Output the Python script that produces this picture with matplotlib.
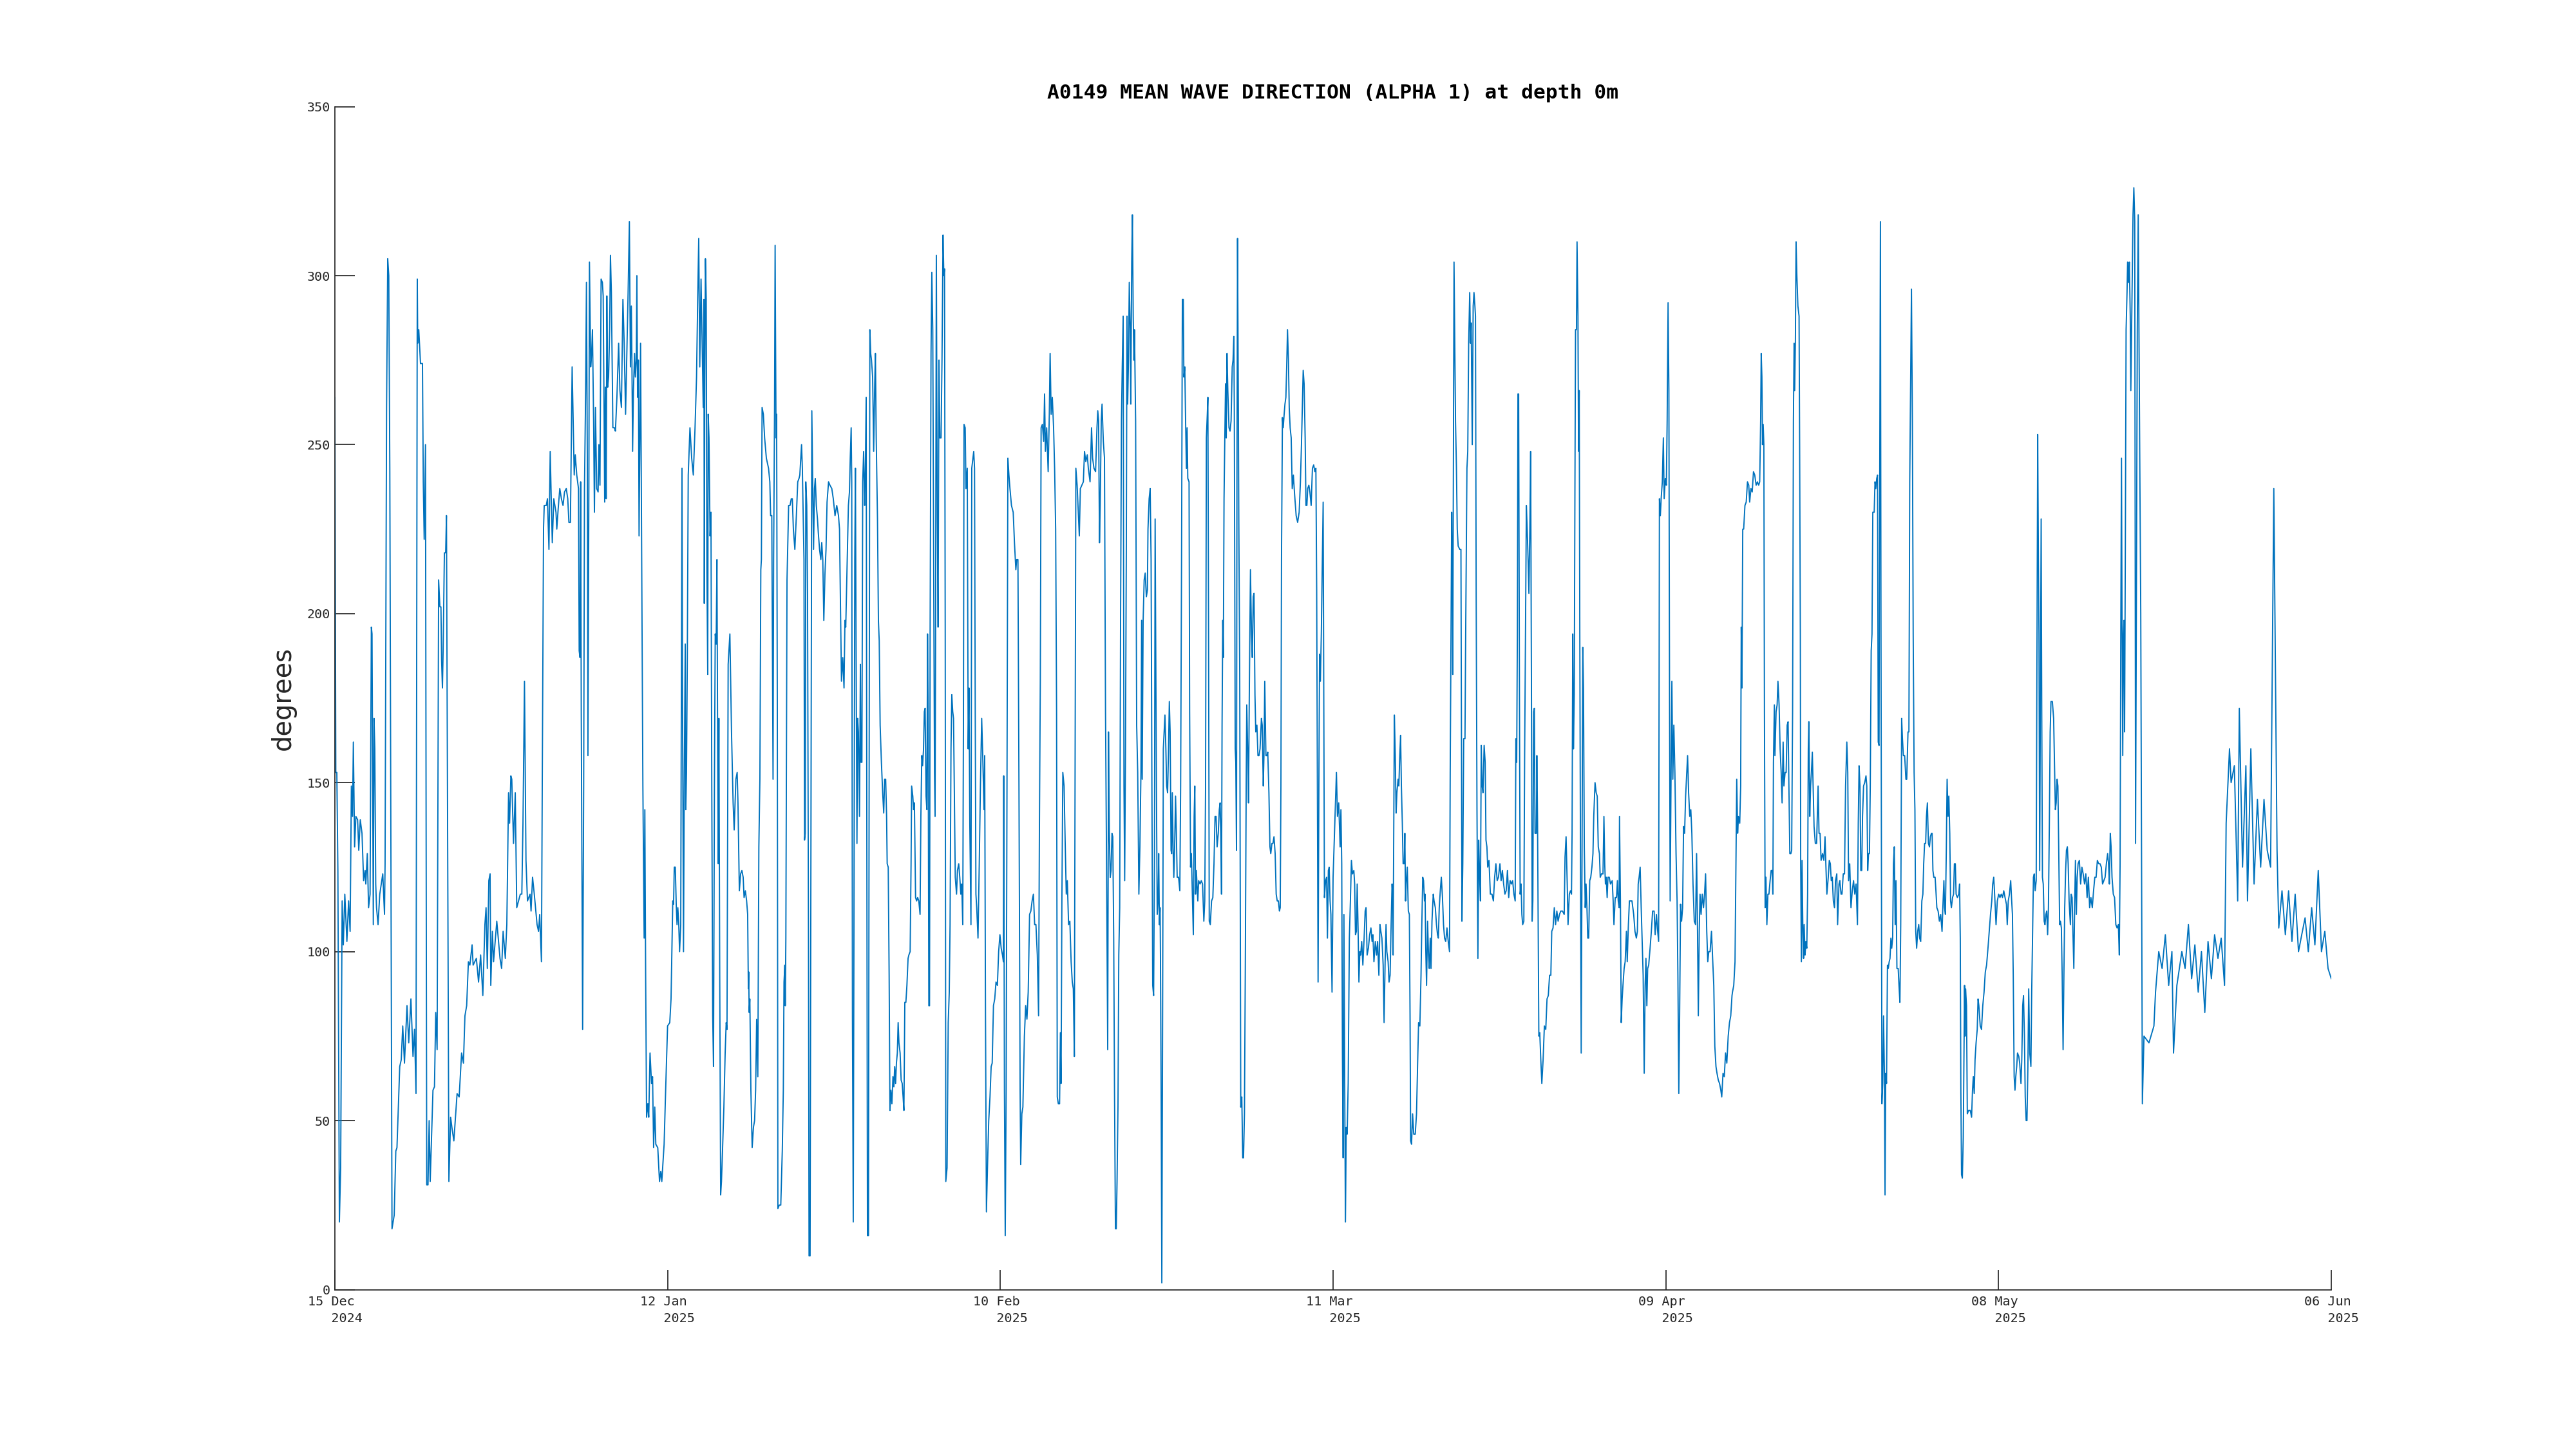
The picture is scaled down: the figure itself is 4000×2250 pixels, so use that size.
import numpy as np
import matplotlib
matplotlib.use("Agg")
import matplotlib.pyplot as plt

# (days since 2024-12-15 00:00, mean wave direction in degrees)
seg01 = [(0.00,264),(0.08,153),(0.17,153),(0.26,124),(0.39,20),(0.50,36),(0.63,115),(0.73,102),(0.86,117),(1.04,103),(1.19,115),(1.32,106),(1.43,149),(1.53,140),(1.60,162),(1.71,131),(1.82,140),(1.97,139),(2.07,130),(2.20,139),(2.35,135),(2.49,121),(2.62,124),(2.68,120),(2.81,129),(2.92,113),(3.05,117),(3.16,196),(3.22,194),(3.33,108),(3.39,169),(3.46,160),(3.54,120),(3.61,113),(3.74,108),(3.89,117),(4.15,123),(4.30,111),(4.35,126),(4.48,261),(4.58,305),(4.67,300),(4.76,243),(4.95,18),(5.14,22),(5.28,41),(5.38,42),(5.62,66),(5.75,68),(5.88,78),(6.03,67),(6.25,84),(6.40,73),(6.59,86),(6.77,69),(6.90,77),(7.03,58),(7.14,299),(7.18,280),(7.27,284),(7.42,274),(7.59,274),(7.66,239),(7.74,222),(7.85,250),(7.96,31),(8.07,31),(8.17,50),(8.26,32),(8.50,59),(8.63,60),(8.74,82),(8.86,71),(8.99,210),(9.10,202),(9.19,202),(9.25,186),(9.32,178),(9.38,189),(9.49,218),(9.60,218),(9.67,229),(9.88,32),(10.03,51),(10.14,48),(10.31,44),(10.59,58),(10.77,57),(10.98,70),(11.14,67),(11.27,81),(11.42,84),(11.57,97),(11.70,96),(11.89,102),(11.98,96),(12.26,98),(12.45,91),(12.63,99),(12.82,87),(13.00,108),(13.10,113),(13.21,95),(13.34,121),(13.45,123),(13.51,90),(13.65,106),(13.75,97),(14.03,109),(14.31,98),(14.45,95),(14.58,106),(14.77,98),(14.90,108),(15.05,147),(15.14,138),(15.25,152),(15.33,151),(15.48,132),(15.63,147),(15.76,113),(16.07,117),(16.20,117),(16.30,138),(16.43,180),(16.56,127),(16.69,115),(16.91,117),(17.00,112),(17.13,122),(17.28,117),(17.52,108),(17.65,106),(17.75,111)]
seg02 = [(17.90,97),(17.97,149),(18.08,225),(18.14,232),(18.32,232),(18.42,234),(18.55,219),(18.66,248),(18.75,234),(18.84,221),(18.97,234),(19.16,230),(19.23,225),(19.35,231),(19.49,237),(19.63,234),(19.77,232),(19.90,236),(20.05,237),(20.18,234),(20.28,227),(20.41,227),(20.56,273),(20.65,257),(20.74,241),(20.83,247),(20.96,241),(21.11,237),(21.17,189),(21.24,187),(21.30,239),(21.35,171),(21.47,77),(21.56,149),(21.63,237),(21.73,266),(21.80,298),(21.88,243),(21.93,158),(22.01,239),(22.06,304),(22.17,273),(22.25,277),(22.32,284),(22.42,257),(22.49,230),(22.58,261),(22.69,237),(22.81,236),(22.88,250),(22.97,238),(23.07,299),(23.18,298),(23.25,294),(23.33,259),(23.38,233),(23.44,267),(23.51,234),(23.57,294),(23.64,267),(23.72,270),(23.81,284),(23.88,306),(23.96,295),(24.09,255),(24.22,255),(24.31,254),(24.44,264),(24.59,280),(24.70,266),(24.83,261),(24.96,293),(25.07,280),(25.19,259),(25.30,277),(25.41,295),(25.52,316),(25.61,273),(25.69,291),(25.74,275),(25.80,248),(25.87,266),(25.97,277),(26.04,270),(26.12,275),(26.17,300),(26.23,264),(26.30,275),(26.36,223),(26.41,246),(26.49,280),(26.60,207),(26.69,149),(26.75,124),(26.80,104),(26.86,142),(26.93,93),(27.01,51),(27.12,55),(27.20,51),(27.31,70),(27.44,61),(27.53,63),(27.62,42),(27.72,54),(27.81,43),(27.98,42),(28.13,32),(28.24,35),(28.33,32),(28.42,37),(28.53,43),(28.68,61),(28.83,78),(29.02,79),(29.13,86),(29.28,115),(29.35,114),(29.41,125),(29.50,125),(29.58,114),(29.65,108),(29.72,113),(29.80,108),(29.87,100),(29.97,108),(30.02,171),(30.08,243),(30.13,171),(30.21,100),(30.28,153),(30.36,191),(30.41,142),(30.47,153),(30.54,187),(30.62,241),(30.77,255),(30.92,246),(31.06,241),(31.21,255),(31.34,270),(31.44,293),(31.53,311),(31.62,273),(31.73,299),(31.85,275),(31.92,261),(31.98,293),(32.01,203),(32.05,261),(32.11,305),(32.18,293),(32.24,212),(32.31,182),(32.35,259),(32.42,252),(32.51,223),(32.59,230),(32.66,149),(32.74,81),(32.81,66),(32.89,149),(32.96,194),(33.04,191),(33.11,216),(33.17,160),(33.22,126),(33.28,169),(33.35,93),(33.43,28),(33.50,32),(33.59,41),(33.71,54),(33.82,70),(33.91,79),(33.98,77),(34.08,185),(34.23,194),(34.37,165),(34.51,144),(34.60,136)]
seg03 = [(34.75,151),(34.86,153),(34.93,144),(35.05,118),(35.16,123),(35.27,124),(35.38,122),(35.46,116),(35.57,118),(35.68,115),(35.77,111),(35.83,89),(35.86,94),(35.90,82),(35.96,86),(36.05,59),(36.16,42),(36.27,48),(36.37,50),(36.46,59),(36.55,80),(36.65,63),(36.74,131),(36.83,151),(36.91,213),(36.96,216),(37.02,261),(37.13,259),(37.24,252),(37.39,246),(37.58,243),(37.69,239),(37.76,229),(37.86,229),(37.91,194),(37.97,151),(38.02,216),(38.10,261),(38.15,309),(38.23,252),(38.28,259),(38.34,171),(38.39,24),(38.51,25),(38.64,25),(38.77,41),(38.86,59),(38.92,91),(38.99,96),(39.03,84),(39.08,104),(39.18,210),(39.25,221),(39.32,232),(39.44,232),(39.55,234),(39.64,234),(39.73,225),(39.86,219),(39.99,229),(40.11,239),(40.22,240),(40.29,241),(40.37,246),(40.44,250),(40.51,243),(40.59,228),(40.65,216),(40.70,133),(40.76,135),(40.81,239),(40.89,232),(40.96,205),(41.04,104),(41.09,10),(41.18,10),(41.26,149),(41.33,260),(41.41,239),(41.48,219),(41.56,237),(41.63,240),(41.72,232),(41.82,228),(41.89,224),(42.00,219),(42.11,216),(42.19,221),(42.28,216),(42.37,198),(42.47,212),(42.56,219),(42.65,233),(42.78,239),(42.90,238),(43.06,237),(43.19,234),(43.34,229),(43.49,232),(43.64,229),(43.73,225),(43.81,203),(43.90,180),(44.01,187),(44.12,178),(44.20,198),(44.27,196),(44.40,216),(44.50,232),(44.59,236),(44.66,246),(44.74,255),(44.79,239),(44.85,81),(44.92,20),(44.98,104),(45.05,216),(45.11,243),(45.16,194),(45.24,132),(45.30,169),(45.37,165),(45.46,140),(45.54,185),(45.59,156),(45.67,156),(45.74,239),(45.82,248),(45.91,232),(45.96,240),(46.04,264),(46.09,149),(46.15,16),(46.24,16),(46.28,115),(46.36,284),(46.43,277),(46.50,275),(46.60,270),(46.69,248),(46.78,268),(46.84,277),(46.91,252),(47.02,228),(47.10,198),(47.17,192),(47.25,167),(47.36,156),(47.47,147),(47.56,141),(47.64,151),(47.73,151),(47.81,140),(47.86,126),(47.95,125),(48.03,93),(48.10,53),(48.18,59),(48.27,55),(48.36,63),(48.44,60),(48.51,66),(48.59,61),(48.66,67),(48.74,70),(48.81,79),(48.88,73),(48.98,70),(49.07,62),(49.16,61),(49.24,57),(49.31,53),(49.39,85),(49.48,85),(49.57,90),(49.67,98),(49.74,99),(49.85,100),(49.93,126),(49.98,149),(50.08,146),(50.15,142),(50.22,144),(50.32,116),(50.41,115),(50.50,116),(50.60,115),(50.71,111),(50.78,140),(50.86,158),(50.93,155),(51.01,160),(51.08,171),(51.15,172),(51.23,146),(51.30,142),(51.36,194),(51.41,171),(51.47,84),(51.53,84),(51.58,194),(51.66,277),(51.73,301),(51.81,284),(51.88,221)]
seg04 = [(51.96,153),(52.01,140),(52.05,189),(52.12,306),(52.20,228),(52.27,196),(52.35,275),(52.42,252),(52.53,252),(52.61,275),(52.70,312),(52.77,300),(52.83,302),(52.89,194),(52.94,32),(53.05,36),(53.15,79),(53.24,88),(53.31,108),(53.39,160),(53.46,176),(53.54,171),(53.61,169),(53.69,144),(53.76,122),(53.87,117),(53.95,124),(54.06,126),(54.15,122),(54.24,117),(54.32,120),(54.41,108),(54.47,171),(54.52,256),(54.62,255),(54.69,237),(54.80,243),(54.88,160),(54.95,178),(55.02,138),(55.12,108),(55.19,243),(55.29,246),(55.36,248),(55.43,243),(55.49,171),(55.55,117),(55.62,113),(55.73,104),(55.84,126),(55.94,149),(56.05,169),(56.14,158),(56.25,142),(56.31,158),(56.38,81),(56.46,23),(56.55,36),(56.66,50),(56.77,57),(56.87,66),(56.96,67),(57.07,84),(57.18,86),(57.29,91),(57.41,90),(57.52,100),(57.63,105),(57.74,101),(57.85,99),(57.93,97),(57.96,152),(58.02,59),(58.09,16),(58.17,59),(58.24,149),(58.32,246),(58.41,241),(58.50,237),(58.63,232),(58.78,230),(58.89,221),(59.01,213),(59.08,216),(59.19,216),(59.28,149),(59.38,59),(59.43,37),(59.53,52),(59.62,54),(59.75,75),(59.86,84),(59.97,80),(60.08,88),(60.20,111),(60.31,112),(60.42,115),(60.53,117),(60.64,108),(60.75,108),(60.87,99),(60.98,81),(61.05,135),(61.13,180),(61.20,255),(61.31,256),(61.42,251),(61.50,265),(61.57,248),(61.68,255),(61.81,242),(61.91,259),(61.98,277),(62.07,259),(62.17,264),(62.28,255),(62.37,243),(62.46,225),(62.54,171),(62.60,57),(62.69,55),(62.80,55),(62.87,76),(62.93,61),(63.00,115),(63.08,153),(63.19,149),(63.28,133),(63.38,117),(63.47,121),(63.58,108),(63.69,109),(63.80,97),(63.90,91),(63.99,89),(64.08,69),(64.14,149),(64.21,243),(64.32,238),(64.42,230),(64.51,223),(64.60,237),(64.73,238),(64.86,239),(64.96,248),(65.07,245),(65.20,247),(65.29,243),(65.44,239),(65.57,255),(65.66,246),(65.78,243),(65.92,242),(66.04,255),(66.11,260),(66.18,257),(66.26,221),(66.32,232),(66.41,257),(66.48,262),(66.59,251),(66.69,246),(66.78,171),(66.87,126),(66.97,71),(67.04,165),(67.11,135),(67.19,122),(67.26,124),(67.34,135),(67.41,134),(67.49,104),(67.56,59),(67.64,18),(67.71,18),(67.78,32),(67.86,54),(67.93,99),(68.01,113),(68.08,194),(68.16,257),(68.23,273),(68.31,288),(68.38,149),(68.44,121),(68.51,160),(68.58,216),(68.64,288),(68.70,262),(68.77,275),(68.84,298),(68.92,284),(68.97,262),(69.05,304),(69.11,318),(69.18,288)]
seg05 = [(69.24,275),(69.29,284),(69.39,257),(69.48,167),(69.57,153),(69.67,117),(69.76,131),(69.85,153),(69.91,198),(69.96,151),(70.04,198),(70.13,210),(70.22,212),(70.32,205),(70.41,207),(70.46,225),(70.56,234),(70.65,237),(70.73,216),(70.80,149),(70.87,90),(70.95,87),(71.02,126),(71.08,228),(71.13,194),(71.19,149),(71.26,111),(71.34,115),(71.39,129),(71.45,108),(71.51,113),(71.54,99),(71.60,59),(71.66,2),(71.71,59),(71.79,160),(71.86,165),(71.93,170),(72.01,160),(72.08,149),(72.16,147),(72.23,158),(72.31,174),(72.38,165),(72.46,130),(72.51,129),(72.57,147),(72.64,130),(72.70,122),(72.77,131),(72.85,146),(72.92,135),(72.99,122),(73.11,122),(73.22,118),(73.29,149),(73.37,216),(73.44,293),(73.52,293),(73.57,270),(73.65,273),(73.72,257),(73.79,243),(73.85,255),(73.91,240),(74.02,239),(74.07,171),(74.15,125),(74.22,129),(74.32,115),(74.39,105),(74.46,140),(74.52,149),(74.58,117),(74.65,124),(74.71,120),(74.78,115),(74.85,121),(74.97,120),(75.08,121),(75.19,120),(75.30,109),(75.38,115),(75.45,149),(75.52,252),(75.60,259),(75.65,264),(75.71,194),(75.77,109),(75.86,108),(75.97,115),(76.08,116),(76.18,126),(76.27,140),(76.36,140),(76.45,131),(76.55,135),(76.64,142),(76.71,144),(76.77,135),(76.83,117),(76.88,167),(76.94,198),(76.99,187),(77.05,234),(77.12,252),(77.18,268),(77.24,252),(77.31,277),(77.38,266),(77.48,255),(77.57,254),(77.66,257),(77.76,273),(77.83,275),(77.90,282),(77.94,261),(78.02,160),(78.07,156),(78.13,130),(78.17,239),(78.22,311),(78.28,270),(78.33,228),(78.41,182),(78.50,54),(78.59,57),(78.67,39),(78.74,39),(78.82,52),(78.89,93),(78.97,149),(79.02,173),(79.10,160),(79.17,144),(79.24,176),(79.34,213),(79.43,194),(79.50,187),(79.58,205),(79.65,206),(79.73,176),(79.80,165),(79.90,167),(79.99,158),(80.08,158),(80.17,160),(80.29,169),(80.36,167),(80.45,149),(80.51,158),(80.58,180),(80.68,158),(80.77,158),(80.84,159),(80.94,147),(81.03,131),(81.10,129),(81.20,132),(81.29,132),(81.38,134),(81.48,129),(81.57,117),(81.66,115),(81.76,115),(81.85,112),(81.92,113),(81.98,149),(82.03,216),(82.11,258),(82.18,255),(82.26,259),(82.33,262),(82.41,264),(82.48,273),(82.55,284),(82.63,275),(82.70,261),(82.78,255),(82.87,252),(82.96,237),(83.06,241),(83.15,236),(83.30,229),(83.43,227),(83.56,230),(83.67,239),(83.76,250),(83.84,262),(83.91,272),(83.99,268),(84.08,252),(84.15,232),(84.23,232),(84.30,237),(84.40,238),(84.49,236),(84.60,232),(84.71,243),(84.82,244),(84.92,242),(85.01,243),(85.08,207),(85.14,149),(85.20,91),(85.27,149),(85.33,188),(85.40,180),(85.48,194),(85.57,216),(85.64,233),(85.70,171),(85.75,116),(85.85,121),(85.94,122),(86.01,104),(86.09,124),(86.16,125),(86.24,115),(86.31,111),(86.41,88),(86.50,122)]
seg06 = [(86.79,153),(86.88,140),(86.99,144),(87.11,131),(87.18,142),(87.25,126),(87.31,70),(87.37,39),(87.44,111),(87.51,59),(87.57,20),(87.64,48),(87.72,46),(87.81,61),(87.91,104),(88.00,115),(88.09,127),(88.18,123),(88.30,124),(88.37,120),(88.44,105),(88.52,106),(88.59,120),(88.67,106),(88.74,91),(88.82,100),(88.89,99),(88.98,103),(89.08,96),(89.19,104),(89.28,112),(89.36,113),(89.45,99),(89.56,101),(89.67,105),(89.78,107),(89.88,103),(89.95,105),(90.04,97),(90.16,103),(90.27,99),(90.36,103),(90.47,93),(90.56,108),(90.64,106),(90.73,104),(90.84,96),(90.92,79),(91.01,97),(91.09,108),(91.16,100),(91.27,97),(91.35,91),(91.44,93),(91.53,108),(91.61,120),(91.66,117),(91.70,99),(91.76,138),(91.81,170),(91.89,158),(91.96,141),(92.03,147),(92.13,151),(92.20,149),(92.28,158),(92.35,164),(92.42,149),(92.50,138),(92.57,126),(92.67,126),(92.72,135),(92.78,115),(92.83,120),(92.93,125),(93.02,112),(93.11,111),(93.17,81),(93.22,44),(93.30,43),(93.39,52),(93.49,46),(93.62,46),(93.73,52),(93.82,66),(93.91,79),(94.02,78),(94.12,93),(94.19,108),(94.27,122),(94.34,121),(94.42,115),(94.47,117),(94.53,101),(94.60,90),(94.69,109),(94.77,99),(94.84,95),(94.92,104),(94.99,95),(95.07,109),(95.18,117),(95.25,115),(95.36,113),(95.46,108),(95.55,105),(95.62,104),(95.70,113),(95.79,118),(95.88,122),(95.98,116),(96.07,108),(96.16,104),(96.26,103),(96.37,107),(96.48,103),(96.59,100),(96.65,153),(96.72,194),(96.78,230),(96.83,212),(96.87,182),(96.93,250),(96.98,304),(97.06,275),(97.11,257),(97.19,243),(97.26,225),(97.34,220),(97.48,219),(97.58,219),(97.67,109),(97.74,126),(97.82,163),(97.93,163),(97.99,194),(98.04,216),(98.10,243),(98.17,248),(98.25,280),(98.34,295),(98.41,280),(98.47,286),(98.56,250),(98.64,291),(98.71,295),(98.79,291),(98.84,288),(98.90,205),(98.97,142),(99.05,98),(99.12,133),(99.20,122),(99.27,115),(99.34,161),(99.42,149),(99.49,147),(99.59,161),(99.68,156),(99.75,133),(99.83,131),(99.90,125),(100.01,127),(100.13,117),(100.27,117),(100.39,115),(100.50,122),(100.61,126),(100.72,121),(100.83,122),(100.96,126),(101.06,121),(101.17,124),(101.28,120),(101.39,117),(101.50,118),(101.61,124),(101.72,116),(101.84,121),(101.95,120),(102.06,121),(102.17,117),(102.28,115),(102.34,163),(102.41,156),(102.47,194),(102.52,265),(102.58,265),(102.65,176),(102.71,117),(102.79,120),(102.86,111),(102.93,108),(103.03,109),(103.10,158),(103.18,198),(103.25,232),(103.32,225),(103.40,216),(103.47,206),(103.55,225),(103.62,248),(103.70,167),(103.75,109)]
seg07 = [(103.81,115),(103.88,171),(103.94,172),(104.00,135),(104.11,135),(104.16,158),(104.22,138),(104.28,104),(104.33,75),(104.41,76),(104.50,68),(104.59,61),(104.70,68),(104.81,78),(104.93,77),(105.04,86),(105.15,87),(105.26,93),(105.37,93),(105.45,106),(105.56,107),(105.67,113),(105.78,108),(105.89,112),(106.00,109),(106.12,111),(106.23,112),(106.38,112),(106.53,111),(106.60,128),(106.69,134),(106.79,120),(106.86,108),(106.97,117),(107.07,118),(107.16,117),(107.21,135),(107.27,194),(107.33,160),(107.40,176),(107.46,239),(107.51,284),(107.59,284),(107.64,310),(107.72,288),(107.77,248),(107.83,266),(107.88,194),(107.94,126),(108.00,70),(108.07,126),(108.14,190),(108.20,178),(108.27,131),(108.35,113),(108.42,120),(108.50,113),(108.57,104),(108.65,104),(108.74,121),(108.83,122),(108.93,125),(109.02,129),(109.09,140),(109.20,150),(109.30,147),(109.39,146),(109.48,131),(109.58,129),(109.65,122),(109.76,123),(109.89,123),(109.97,140),(110.04,126),(110.10,120),(110.17,122),(110.25,116),(110.32,122),(110.43,122),(110.54,120),(110.69,121),(110.77,115),(110.84,108),(110.95,116),(111.06,116),(111.14,121),(111.21,115),(111.29,113),(111.32,140),(111.40,115),(111.47,79),(111.55,86),(111.62,90),(111.72,95),(111.81,97),(111.92,106),(111.99,97),(112.09,108),(112.18,115),(112.27,115),(112.40,115),(112.55,111),(112.66,106),(112.78,104),(112.87,106),(112.94,120),(113.02,122),(113.11,125),(113.20,113),(113.30,101),(113.37,93),(113.46,64),(113.54,90),(113.61,98),(113.69,84),(113.76,95),(113.85,96),(113.97,101),(114.08,106),(114.19,112),(114.32,112),(114.41,105),(114.52,111),(114.60,107),(114.71,103),(114.78,234),(114.86,229),(114.93,234),(115.03,239),(115.12,252),(115.19,234),(115.29,240),(115.38,238),(115.45,257),(115.53,292),(115.60,266),(115.66,171),(115.71,115),(115.79,153),(115.86,180),(115.94,151),(116.03,167),(116.12,153),(116.22,129),(116.31,115),(116.38,93),(116.46,58),(116.53,81),(116.61,114),(116.70,109),(116.79,113),(116.87,137),(116.96,135),(117.05,146),(117.15,153),(117.22,158),(117.31,147),(117.41,140),(117.50,142),(117.59,135),(117.69,120),(117.80,109),(117.91,108),(118.00,129),(118.08,106),(118.15,81),(118.23,106),(118.30,117),(118.39,111),(118.49,117),(118.60,113),(118.69,117),(118.78,123),(118.88,106),(118.97,97),(119.06,100),(119.17,100),(119.29,106),(119.40,97),(119.49,90),(119.58,72),(119.68,66),(119.77,64),(119.88,62),(119.99,61),(120.10,59),(120.18,57),(120.29,64),(120.40,63),(120.51,70),(120.62,67),(120.74,75),(120.85,79),(120.96,81),(121.07,87)]
seg08 = [(121.11,88),(121.22,90),(121.33,97),(121.41,126),(121.48,151),(121.56,135),(121.63,140),(121.74,138),(121.82,149),(121.87,196),(121.93,178),(122.00,225),(122.08,225),(122.19,232),(122.30,233),(122.41,239),(122.52,238),(122.60,233),(122.71,237),(122.82,236),(122.93,242),(123.04,241),(123.16,238),(123.27,239),(123.38,238),(123.47,239),(123.55,257),(123.60,277),(123.66,270),(123.71,250),(123.77,256),(123.83,250),(123.88,171),(123.94,113),(124.01,122),(124.09,108),(124.18,117),(124.27,117),(124.37,121),(124.46,124),(124.55,124),(124.61,117),(124.66,156),(124.74,173),(124.79,158),(124.89,171),(124.98,173),(125.05,180),(125.15,173),(125.24,160),(125.33,153),(125.41,144),(125.50,162),(125.57,149),(125.67,153),(125.76,153),(125.85,167),(125.93,168),(126.00,149),(126.08,129),(126.17,129),(126.24,130),(126.32,171),(126.39,257),(126.45,280),(126.50,266),(126.56,280),(126.62,310),(126.69,300),(126.78,291),(126.88,288),(126.93,250),(126.99,194),(127.02,126),(127.08,97),(127.14,127),(127.21,106),(127.27,98),(127.32,108),(127.40,99),(127.47,103),(127.55,101),(127.62,117),(127.68,160),(127.73,168),(127.81,140),(127.88,149),(127.95,153),(128.03,159),(128.10,149),(128.18,137),(128.29,132),(128.40,132),(128.48,142),(128.53,149),(128.61,135),(128.70,135),(128.79,127),(128.92,129),(129.03,127),(129.13,134),(129.20,126),(129.29,117),(129.41,122),(129.50,127),(129.59,126),(129.67,121),(129.76,122),(129.85,115),(129.95,113),(130.04,121),(130.15,123),(130.22,108),(130.34,120),(130.41,121),(130.52,117),(130.60,117),(130.71,123),(130.82,123),(130.91,149),(131.02,162),(131.10,153),(131.17,121),(131.27,126),(131.38,113),(131.49,118),(131.60,121),(131.71,117),(131.82,120),(131.94,108),(132.01,138),(132.08,155),(132.16,149),(132.23,124),(132.31,124),(132.38,140),(132.47,149),(132.57,150),(132.68,152),(132.75,149),(132.83,124),(132.90,129),(132.98,129),(133.05,149),(133.13,189),(133.20,194),(133.27,230),(133.39,230),(133.46,239),(133.53,237),(133.61,240),(133.68,241),(133.74,162),(133.81,161),(133.87,239),(133.93,316),(133.98,194),(134.06,55),(134.13,61),(134.20,81),(134.28,63),(134.33,28),(134.39,64),(134.46,61),(134.54,96),(134.61,95),(134.69,97),(134.76,98),(134.84,104),(134.91,101),(134.99,104),(135.06,126),(135.13,131),(135.21,108),(135.28,121),(135.36,95),(135.47,95),(135.54,90),(135.62,85),(135.69,108),(135.77,169),(135.84,163),(135.92,158),(136.03,158),(136.14,151),(136.21,151),(136.32,165),(136.40,165),(136.47,239),(136.55,270),(136.62,296),(136.70,257),(136.77,194),(136.85,153),(136.92,142),(136.99,106),(137.07,101),(137.16,106),(137.25,108),(137.33,104),(137.42,103),(137.52,115),(137.61,117),(137.68,126),(137.76,132),(137.85,132),(137.92,140),(138.00,144),(138.09,132),(138.18,131),(138.26,134),(138.35,135)]
seg09 = [(138.41,135),(138.48,124),(138.56,122),(138.67,122),(138.74,118),(138.82,113),(138.93,112),(139.04,109),(139.15,111),(139.27,106),(139.34,113),(139.43,121),(139.49,113),(139.56,111),(139.64,130),(139.71,151),(139.79,140),(139.86,146),(139.94,135),(140.01,115),(140.08,113),(140.18,116),(140.27,117),(140.34,126),(140.42,126),(140.49,117),(140.60,116),(140.72,117),(140.79,120),(140.85,104),(140.90,59),(140.96,34),(141.03,33),(141.11,45),(141.16,66),(141.22,90),(141.27,75),(141.31,89),(141.39,84),(141.46,52),(141.57,53),(141.72,53),(141.83,51),(141.91,59),(141.98,63),(142.06,58),(142.13,68),(142.22,73),(142.32,77),(142.39,86),(142.46,84),(142.58,78),(142.69,77),(142.80,84),(142.91,88),(143.02,94),(143.13,96),(143.25,101),(143.36,106),(143.47,111),(143.58,115),(143.66,120),(143.75,122),(143.84,116),(143.95,108),(144.06,115),(144.18,117),(144.29,116),(144.40,117),(144.51,116),(144.62,118),(144.73,116),(144.85,114),(144.92,108),(145.01,115),(145.11,117),(145.22,121),(145.29,116),(145.37,111),(145.44,93),(145.52,63),(145.59,59),(145.66,63),(145.74,66),(145.81,70),(145.92,69),(146.00,67),(146.11,61),(146.18,68),(146.26,84),(146.33,87),(146.41,75),(146.48,57),(146.56,50),(146.63,50),(146.71,66),(146.78,89),(146.87,70),(146.97,66),(147.04,88),(147.11,104),(147.19,122),(147.26,123),(147.34,118),(147.43,121),(147.49,182),(147.56,253),(147.62,216),(147.67,194),(147.73,124),(147.80,182),(147.86,228),(147.91,171),(147.97,122),(148.04,120),(148.12,109),(148.19,108),(148.27,111),(148.34,112),(148.42,105),(148.49,113),(148.57,138),(148.64,165),(148.71,174),(148.83,174),(148.94,169),(149.01,156),(149.09,142),(149.16,144),(149.24,151),(149.31,149),(149.38,131),(149.46,108),(149.53,109),(149.61,107),(149.68,93),(149.76,71),(149.83,93),(149.90,113),(149.98,124),(150.05,130),(150.13,131),(150.20,126),(150.28,115),(150.39,108),(150.46,117),(150.54,116),(150.61,106),(150.69,95),(150.76,113),(150.83,127),(150.91,111),(150.98,122),(151.06,126),(151.17,127),(151.28,120),(151.39,125),(151.50,123),(151.62,120),(151.73,123),(151.84,116),(151.95,122),(152.06,113),(152.17,116),(152.29,113),(152.40,118),(152.51,122),(152.62,122),(152.73,127),(152.84,126),(152.96,126),(153.07,125),(153.18,120),(153.29,121),(153.40,122),(153.51,126),(153.62,129),(153.70,126),(153.77,120),(153.85,135),(153.92,131),(154.00,122),(154.11,117),(154.22,116),(154.33,108),(154.44,107),(154.55,108),(154.63,99),(154.70,126),(154.76,194),(154.82,246),(154.87,194),(154.93,158),(154.98,194),(155.04,198),(155.09,165),(155.15,216),(155.22,284),(155.30,295),(155.35,304),(155.43,298),(155.50,304),(155.58,288),(155.63,266),(155.69,282),(155.75,298),(155.82,318),(155.89,326),(155.97,316),(156.04,132),(156.12,216),(156.19,284),(156.27,318)]
seg10 = [(156.49,200),(156.63,55),(156.77,75),(157.20,73),(157.63,78),(157.77,88),(158.05,100),(158.34,95),(158.62,105),(158.91,90),(159.19,100),(159.33,70),(159.62,90),(160.05,100),(160.33,95),(160.62,108),(160.90,92),(161.18,102),(161.47,88),(161.75,100),(162.04,82),(162.32,103),(162.61,92),(162.89,105),(163.18,98),(163.46,104),(163.75,90),(163.89,138),(164.18,160),(164.32,150),(164.60,155),(164.89,115),(165.03,172),(165.31,125),(165.60,155),(165.74,115),(166.03,160),(166.31,120),(166.60,145),(166.88,125),(167.17,145),(167.45,130),(167.74,125),(168.02,237),(168.30,130),(168.45,107),(168.73,118),(169.02,105),(169.30,118),(169.59,103),(169.87,117),(170.16,100),(170.44,105),(170.73,110),(171.01,100),(171.30,113),(171.58,102),(171.87,124),(172.15,100),(172.44,106),(172.72,95),(173.00,92)]

title_text = "A0149 MEAN WAVE DIRECTION (ALPHA 1) at depth 0m"
y_label = "degrees"
y_ticks = [0, 50, 100, 150, 200, 250, 300, 350]
x_tick_labels = ["15 Dec\n   2024", "12 Jan\n   2025", "10 Feb\n   2025", "11 Mar\n   2025",
                 "09 Apr\n   2025", "08 May\n   2025", "06 Jun\n   2025"]
span_days = 173

segments = [seg01, seg02, seg03, seg04, seg05, seg06, seg07, seg08, seg09, seg10]
t_days = np.array([p[0] for s in segments for p in s])
direction = np.array([p[1] for s in segments for p in s], dtype=float)

start = np.datetime64("2024-12-15T00:00:00")
def to_time(days):
    return start + np.round(np.asarray(days) * 86400).astype("int64").astype("timedelta64[s]")

times = to_time(t_days)

mono = "DejaVu Sans Mono"
axc = "#262626"

fig = plt.figure(figsize=(16, 9), dpi=250)
ax = fig.add_axes([0.13, 0.11, 0.775, 0.8164])
ax.plot(times, direction, color="#0072BD", lw=0.55)

ax.set_ylim(0, 350)
ax.set_yticks(y_ticks)
ax.set_xlim(to_time(0), to_time(span_days))
ax.set_xticks(to_time(np.linspace(0, span_days, 7)))
ax.set_xticklabels(x_tick_labels)

for side in ("top", "right"):
    ax.spines[side].set_visible(False)
for side in ("left", "bottom"):
    ax.spines[side].set_linewidth(0.5)
    ax.spines[side].set_color(axc)

ax.tick_params(direction="in", length=9, width=0.5, colors=axc, labelsize=5.8, pad=2)
ax.tick_params(axis="x", pad=2.8)
for lbl in ax.get_xticklabels() + ax.get_yticklabels():
    lbl.set_fontfamily(mono)
for lbl in ax.get_xticklabels():
    lbl.set_multialignment("left")
    lbl.set_linespacing(1.45)

ax.set_title(title_text, fontfamily=mono, fontweight="bold", fontsize=9, pad=3.5, color="black")
ax.set_ylabel(y_label, fontsize=11.5, labelpad=5, color=axc)

fig.savefig("out.png", dpi=250, facecolor="white")
